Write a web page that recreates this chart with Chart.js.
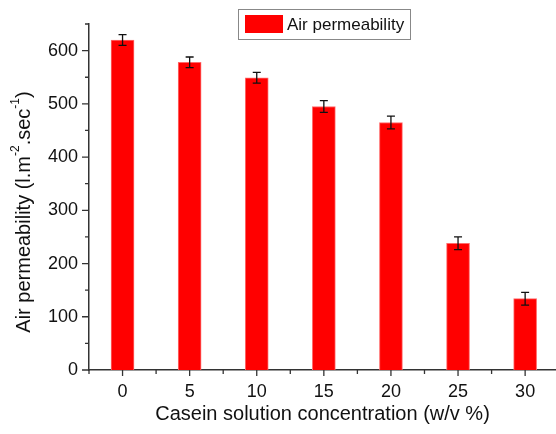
<!DOCTYPE html>
<html>
<head>
<meta charset="utf-8">
<script src="https://cdn.jsdelivr.net/npm/chart.js@4"></script>
<style>
  html, body { margin: 0; padding: 0; background: #fff; }
  #wrap { width: 556px; height: 434px; }
</style>
</head>
<body>
<div id="wrap"><canvas id="permChart" width="556" height="434"></canvas></div>
<script>
// values
const concentrations = [0, 5, 10, 15, 20, 25, 30];
const permeability = [620, 578, 549, 495, 465, 238, 134];
const errors = [10, 10, 10, 11, 12, 12, 12];
const yMajorTicks = [0, 100, 200, 300, 400, 500, 600];
const yMinorTicks = [50, 150, 250, 350, 450, 550, 650];
const xMinorTicks = [-2.5, 2.5, 7.5, 12.5, 17.5, 22.5, 27.5];

const FONT = "Arial, 'Liberation Sans', sans-serif";
const AXIS_COLOR = "#333";

// error bars, axis tick marks, y title with superscripts, boxed legend
const extrasPlugin = {
    id: "extras",
    afterDatasetsDraw(chart) {
        const ctx = chart.ctx;
        const xs = chart.scales.x, ys = chart.scales.y;
        ctx.save();
        ctx.strokeStyle = "#111";
        ctx.lineWidth = 1.3;
        concentrations.forEach((c, i) => {
            const x = xs.getPixelForValue(c);
            const top = ys.getPixelForValue(permeability[i] + errors[i]);
            const bot = ys.getPixelForValue(permeability[i] - errors[i]);
            ctx.beginPath();
            ctx.moveTo(x, top); ctx.lineTo(x, bot);
            ctx.moveTo(x - 4, top); ctx.lineTo(x + 4, top);
            ctx.moveTo(x - 4, bot); ctx.lineTo(x + 4, bot);
            ctx.stroke();
        });
        ctx.restore();
    },
    afterDraw(chart) {
        const ctx = chart.ctx;
        const xs = chart.scales.x, ys = chart.scales.y;
        const area = chart.chartArea;
        ctx.save();
        ctx.strokeStyle = AXIS_COLOR;
        ctx.lineWidth = 1.3;
        ctx.beginPath();
        yMajorTicks.forEach(v => {
            const y = ys.getPixelForValue(v);
            ctx.moveTo(area.left, y); ctx.lineTo(area.left - 7, y);
        });
        yMinorTicks.forEach(v => {
            const y = ys.getPixelForValue(v);
            ctx.moveTo(area.left, y); ctx.lineTo(area.left - 4, y);
        });
        concentrations.forEach(v => {
            const x = xs.getPixelForValue(v);
            ctx.moveTo(x, area.bottom); ctx.lineTo(x, area.bottom + 6);
        });
        xMinorTicks.forEach(v => {
            const x = xs.getPixelForValue(v);
            ctx.moveTo(x, area.bottom); ctx.lineTo(x, area.bottom + 4);
        });
        ctx.stroke();

        // y axis title
        const parts = [
            { t: "Air permeability (l.m", sup: false },
            { t: "-2", sup: true },
            { t: ".sec", sup: false },
            { t: "-1", sup: true },
            { t: ")", sup: false }
        ];
        const mainFont = "20px " + FONT, supFont = "12px " + FONT;
        let total = 0;
        parts.forEach(p => {
            ctx.font = p.sup ? supFont : mainFont;
            p.w = ctx.measureText(p.t).width;
            total += p.w;
        });
        ctx.translate(24, 212);
        ctx.rotate(-Math.PI / 2);
        ctx.fillStyle = "#111";
        ctx.textBaseline = "middle";
        ctx.textAlign = "left";
        let cx = -total / 2;
        parts.forEach(p => {
            ctx.font = p.sup ? supFont : mainFont;
            ctx.fillText(p.t, cx, p.sup ? -8 : 0);
            cx += p.w;
        });
        ctx.restore();

        // legend
        const ds = chart.data.datasets[0];
        ctx.save();
        ctx.strokeStyle = "#888";
        ctx.lineWidth = 1;
        ctx.fillStyle = "#fff";
        ctx.fillRect(238.5, 9.5, 172, 30);
        ctx.strokeRect(238.5, 9.5, 172, 30);
        ctx.fillStyle = ds.backgroundColor;
        ctx.fillRect(245, 15, 38, 18);
        ctx.fillStyle = "#111";
        ctx.font = "17px " + FONT;
        ctx.textBaseline = "middle";
        ctx.fillText(ds.label, 287, 25);
        ctx.restore();
    }
};

const ctx = document.getElementById("permChart").getContext("2d");
new Chart(ctx, {
    type: "bar",
    data: {
        datasets: [{
            label: "Air permeability",
            data: concentrations.map((c, i) => ({ x: c, y: permeability[i] })),
            backgroundColor: "#ff0000",
            borderColor: "#ff6b6b",
            borderWidth: 1,
            barThickness: 23
        }]
    },
    options: {
        responsive: false,
        animation: false,
        devicePixelRatio: 1,
        layout: { padding: { top: 24, left: 0, right: 0, bottom: 0 } },
        plugins: {
            legend: { display: false },
            tooltip: { enabled: false }
        },
        scales: {
            x: {
                type: "linear",
                offset: false,
                min: -2.5,
                max: 32.3,
                afterBuildTicks: s => { s.ticks = concentrations.map(v => ({ value: v })); },
                afterFit: s => { s.height = 64; },
                grid: { display: false, drawTicks: false, offset: false },
                border: { display: true, color: AXIS_COLOR, width: 1.5 },
                ticks: { font: { size: 18, family: FONT }, color: "#111", padding: 11, maxRotation: 0 },
                title: {
                    display: true,
                    text: "Casein solution concentration (w/v %)",
                    font: { size: 20, family: FONT },
                    color: "#111",
                    padding: { top: 0, bottom: 8 }
                }
            },
            y: {
                min: 0,
                max: 650,
                afterBuildTicks: s => { s.ticks = yMajorTicks.map(v => ({ value: v })); },
                afterFit: s => { s.width = 89; },
                grid: { display: false, drawTicks: false },
                border: { display: true, color: AXIS_COLOR, width: 1.5 },
                ticks: { font: { size: 18, family: FONT }, color: "#111", padding: 11 }
            }
        }
    },
    plugins: [extrasPlugin]
});
</script>
</body>
</html>
